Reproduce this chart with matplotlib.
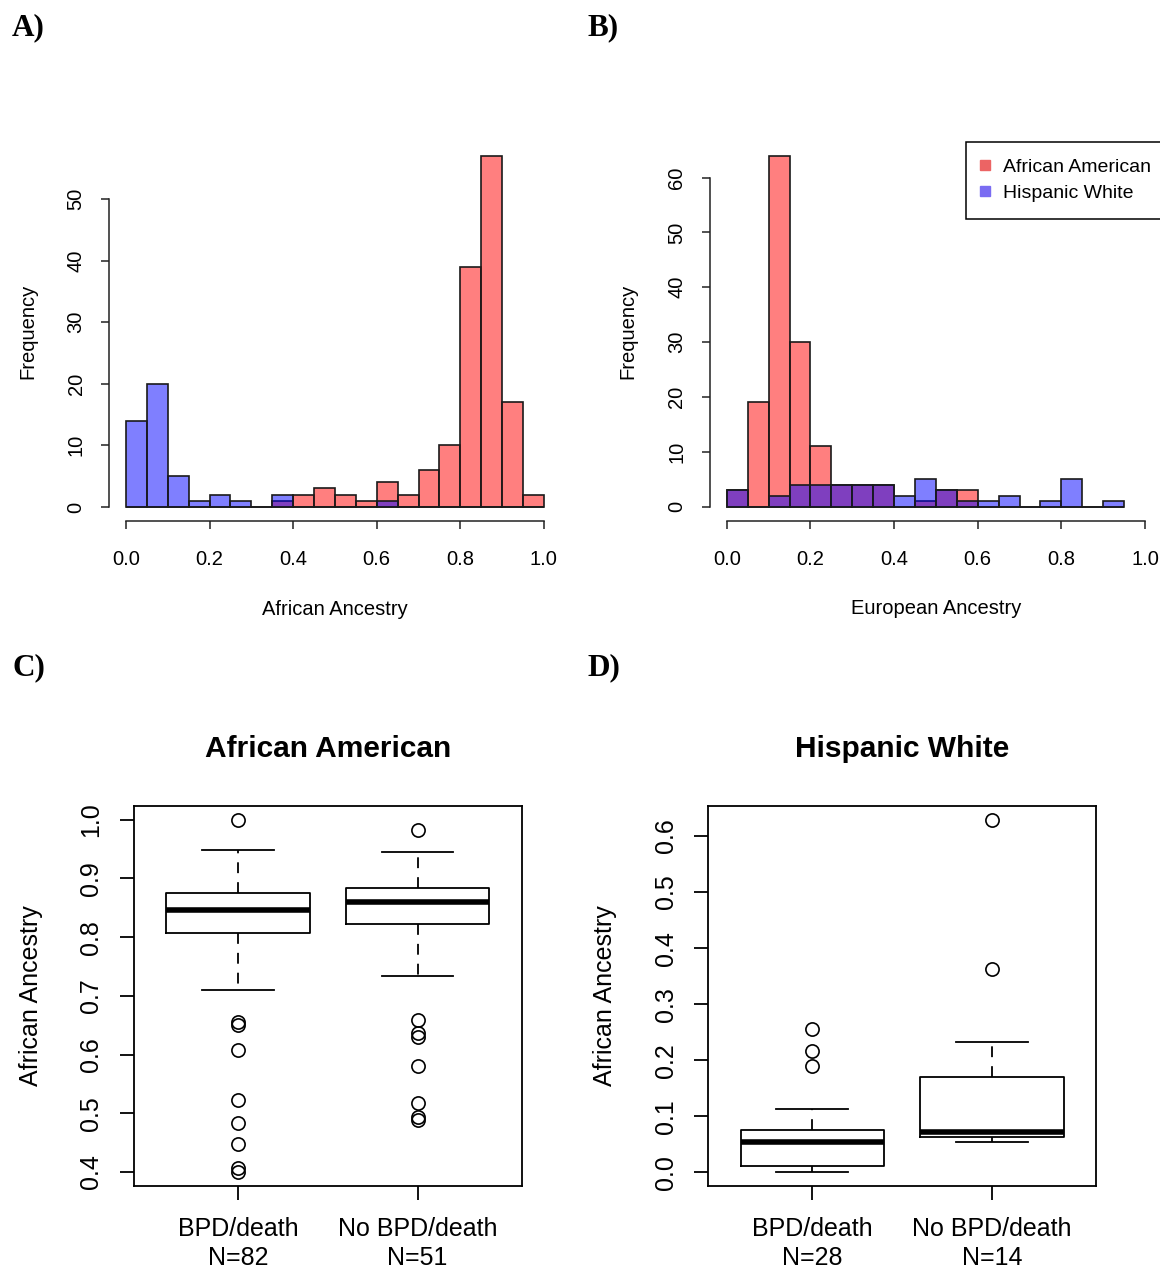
import numpy as np
import matplotlib
matplotlib.use("Agg")
from matplotlib import pyplot as plt
from matplotlib.lines import Line2D

plt.rcParams['font.family'] = ['Liberation Sans', 'DejaVu Sans']

# histogram bins (left edges, width 0.05)
bins_a = np.round(np.arange(0, 1.0, 0.05), 2)
bins_b = np.round(np.arange(0, 0.95, 0.05), 2)

# A) African ancestry counts
aa_african = [0, 0, 0, 0, 0, 0, 0, 1, 2, 3, 2, 1, 4, 2, 6, 10, 39, 57, 17, 2]
hw_african = [14, 20, 5, 1, 2, 1, 0, 2, 0, 0, 0, 0, 1, 0, 0, 0, 0, 0, 0, 0]

# B) European ancestry counts
aa_european = [3, 19, 64, 30, 11, 4, 4, 4, 0, 1, 3, 3, 0, 0, 0, 0, 0, 0, 0]
hw_european = [3, 0, 2, 4, 4, 4, 4, 4, 2, 5, 3, 1, 1, 2, 0, 1, 5, 0, 1]

groups = ["BPD/death", "No BPD/death"]

# C) African American boxplot summaries
aa_n = [82, 51]
aa_q1 = [0.807, 0.823]
aa_med = [0.846, 0.860]
aa_q3 = [0.875, 0.884]
aa_lo = [0.710, 0.733]
aa_hi = [0.949, 0.945]
aa_out = [[1.0, 0.656, 0.650, 0.607, 0.523, 0.484, 0.447, 0.406, 0.400],
          [0.983, 0.658, 0.637, 0.629, 0.581, 0.517, 0.494, 0.488]]

# D) Hispanic White boxplot summaries
hw_n = [28, 14]
hw_q1 = [0.0107, 0.063]
hw_med = [0.0536, 0.0726]
hw_q3 = [0.075, 0.170]
hw_lo = [0.001, 0.0548]
hw_hi = [0.1125, 0.2328]
hw_out = [[0.2566, 0.2173, 0.189], [0.629, 0.363]]

red = (1, 0, 0, 0.5)
blue = (0, 0, 1, 0.5)

fig = plt.figure(figsize=(11.6, 12.68), dpi=100)


def hist_panel(rect, bins, red_counts, blue_counts, top, xlab):
    ax = fig.add_axes(rect)
    ax.bar(bins[:len(red_counts)], red_counts, width=0.05, align="edge",
           color=red, edgecolor="#1a1a1a", linewidth=1.2)
    ax.bar(bins[:len(blue_counts)], blue_counts, width=0.05, align="edge",
           color=blue, edgecolor="#1a1a1a", linewidth=1.2)
    ymax = max(max(red_counts), max(blue_counts))
    ax.set_xlim(-0.04, 1.04)
    ax.set_ylim(-0.04 * ymax, 1.04 * ymax)
    ax.set_xticks([0, 0.2, 0.4, 0.6, 0.8, 1.0])
    ax.set_xticklabels(["0.0", "0.2", "0.4", "0.6", "0.8", "1.0"])
    ax.set_yticks(range(0, top + 1, 10))
    for s in ["top", "right"]:
        ax.spines[s].set_visible(False)
    ax.spines["left"].set_bounds(0, top)
    ax.spines["bottom"].set_bounds(0, 1)
    for s in ["left", "bottom"]:
        ax.spines[s].set_linewidth(1.1)
        ax.spines[s].set_color("#222222")
    ax.tick_params(length=6, width=1.1, color="#222222", labelsize=14.5)
    ax.tick_params(axis="x", pad=15)
    ax.tick_params(axis="y", labelrotation=90, pad=11)
    for t in ax.get_yticklabels():
        t.set_va("center")
    ax.set_ylabel("Frequency", fontsize=14.5)
    ax.yaxis.set_label_coords(-0.16, 0.5)
    ax.set_xlabel(xlab, fontsize=14.5)
    ax.xaxis.set_label_coords(0.5, -0.208)
    return ax


ax_a = hist_panel([0.0942, 0.5891, 0.3891, 0.2991], bins_a, aa_african, hw_african, 50,
                  "African Ancestry")
ax_b = hist_panel([0.6121, 0.5894, 0.3894, 0.2989], bins_b, aa_european, hw_european, 60,
                  "European Ancestry")
handles = [Line2D([], [], marker="s", linestyle="none", color="#ec6464", markersize=7),
           Line2D([], [], marker="s", linestyle="none", color="#7a6cf2", markersize=7)]
leg = ax_b.legend(handles, ["African American", "Hispanic White"], loc="upper left",
                  bbox_to_anchor=(0.5667, 1.0), borderaxespad=0, fancybox=False, framealpha=1,
                  edgecolor="black", fontsize=14, handlelength=0.3, handletextpad=0.75,
                  borderpad=0.85, labelspacing=0.45)
leg.get_frame().set_linewidth(1.1)


def box_panel(rect, title, n, q1, med, q3, lo, hi, out, ticks):
    ax = fig.add_axes(rect)
    stats = []
    for i in range(len(groups)):
        stats.append({"med": med[i], "q1": q1[i], "q3": q3[i],
                      "whislo": lo[i], "whishi": hi[i], "fliers": out[i]})
    ax.bxp(stats, positions=[1, 2], widths=0.8, capwidths=0.4,
           boxprops=dict(color="black", linewidth=1.3),
           medianprops=dict(color="black", linewidth=4),
           whiskerprops=dict(color="black", linewidth=1.3, linestyle=(0, (6, 5))),
           capprops=dict(color="black", linewidth=1.3),
           flierprops=dict(marker="o", markerfacecolor="none", markeredgecolor="black",
                           markersize=9.5, markeredgewidth=1.2))
    vals = lo + hi + [v for o in out for v in o]
    vmin, vmax = min(vals), max(vals)
    pad = 0.04 * (vmax - vmin)
    ax.set_ylim(vmin - pad, vmax + pad)
    ax.set_xlim(0.42, 2.58)
    ax.set_yticks(ticks)
    ax.set_yticklabels(["%.1f" % t for t in ticks])
    ax.set_xticks([1, 2])
    ax.set_xticklabels(["%s\nN=%d" % (g, k) for g, k in zip(groups, n)])
    for s in ax.spines.values():
        s.set_linewidth(1.3)
    ax.tick_params(length=10, width=1.3, labelsize=18)
    ax.tick_params(axis="x", pad=12)
    ax.tick_params(axis="y", labelrotation=90, pad=12)
    for t in ax.get_yticklabels():
        t.set_va("center")
    for t in ax.get_xticklabels():
        t.set_linespacing(1.3)
    ax.set_ylabel("African Ancestry", fontsize=18)
    ax.yaxis.set_label_coords(-0.235, 0.5)
    ax.set_title(title, fontsize=21.5, fontweight="bold", pad=35)
    return ax


box_panel([0.1155, 0.0647, 0.3342, 0.2999], "African American", aa_n, aa_q1, aa_med, aa_q3,
          aa_lo, aa_hi, aa_out, [0.4, 0.5, 0.6, 0.7, 0.8, 0.9, 1.0])
box_panel([0.6106, 0.0647, 0.3342, 0.2999], "Hispanic White", hw_n, hw_q1, hw_med, hw_q3,
          hw_lo, hw_hi, hw_out, [0.0, 0.1, 0.2, 0.3, 0.4, 0.5, 0.6])

for lab, x, y in [("A)", 12, 35), ("B)", 588, 35), ("C)", 12, 675), ("D)", 588, 675)]:
    fig.text(x / 1160, 1 - y / 1268, lab, fontsize=22.5, fontweight="bold",
             family="Liberation Serif", va="baseline")

plt.savefig("out.png", dpi=100)
